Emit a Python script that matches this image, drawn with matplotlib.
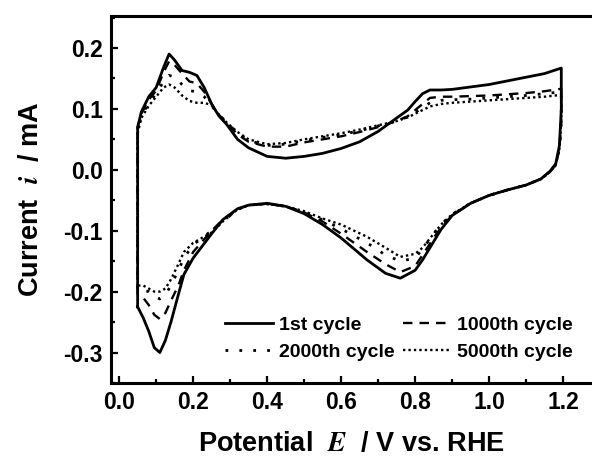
import matplotlib
matplotlib.use("Agg")
import matplotlib.pyplot as plt
from matplotlib.ticker import MultipleLocator

plt.rcParams['font.family'] = ['Liberation Sans', 'DejaVu Sans']
plt.rcParams['font.weight'] = 'bold'
plt.rcParams['mathtext.fontset'] = 'stix'

# --- forward (anodic) scan: common potential grid, V vs RHE ---
E_fwd = [0.05, 0.05, 0.06, 0.08, 0.10, 0.12, 0.135, 0.15, 0.17, 0.19, 0.21, 0.23,
         0.25, 0.27, 0.29, 0.32, 0.35, 0.40, 0.45, 0.50, 0.55, 0.60, 0.65, 0.70,
         0.75, 0.78, 0.80, 0.82, 0.84, 0.87, 0.90, 0.95, 1.00, 1.05, 1.10, 1.15, 1.195]

i_fwd_1 = [-0.225, 0.07, 0.095, 0.12, 0.135, 0.168, 0.19, 0.18, 0.163, 0.16, 0.155, 0.135,
           0.108, 0.088, 0.075, 0.05, 0.036, 0.022, 0.019, 0.022, 0.027, 0.035, 0.046, 0.063,
           0.085, 0.098, 0.112, 0.125, 0.131, 0.131, 0.132, 0.136, 0.14, 0.146, 0.152, 0.158, 0.167]
i_fwd_1000 = [-0.205, 0.07, 0.092, 0.115, 0.13, 0.16, 0.178, 0.172, 0.158, 0.145, 0.142, 0.128,
              0.108, 0.09, 0.078, 0.058, 0.046, 0.038, 0.038, 0.045, 0.05, 0.055, 0.062, 0.07,
              0.08, 0.088, 0.098, 0.108, 0.118, 0.12, 0.12, 0.121, 0.122, 0.124, 0.126, 0.129, 0.133]
i_fwd_2000 = [-0.195, 0.065, 0.088, 0.11, 0.125, 0.145, 0.155, 0.152, 0.14, 0.13, 0.128, 0.12,
              0.105, 0.09, 0.078, 0.06, 0.048, 0.04, 0.042, 0.048, 0.053, 0.058, 0.064, 0.072,
              0.08, 0.087, 0.094, 0.102, 0.11, 0.114, 0.115, 0.116, 0.118, 0.12, 0.122, 0.125, 0.128]
i_fwd_5000 = [-0.19, 0.06, 0.085, 0.105, 0.12, 0.135, 0.14, 0.135, 0.122, 0.113, 0.11, 0.11,
              0.106, 0.09, 0.078, 0.062, 0.05, 0.042, 0.044, 0.05, 0.055, 0.06, 0.066, 0.073,
              0.08, 0.086, 0.092, 0.098, 0.104, 0.108, 0.11, 0.112, 0.114, 0.116, 0.118, 0.12, 0.123]

# --- reverse (cathodic) scan ---
E_rev = [1.195, 1.19, 1.18, 1.165, 1.14, 1.10, 1.05, 1.00, 0.95, 0.90, 0.87, 0.85,
         0.82, 0.80, 0.76, 0.72, 0.67, 0.60, 0.55, 0.50, 0.45, 0.40, 0.35, 0.32,
         0.28, 0.25, 0.20, 0.175, 0.16, 0.14, 0.125, 0.11, 0.095, 0.08, 0.065, 0.05]

i_rev_1 = [0.10, 0.04, 0.01, -0.002, -0.015, -0.025, -0.033, -0.042, -0.055, -0.075, -0.098, -0.118,
           -0.148, -0.165, -0.178, -0.170, -0.148, -0.112, -0.09, -0.072, -0.06, -0.055, -0.058, -0.064,
           -0.082, -0.105, -0.145, -0.172, -0.205, -0.25, -0.28, -0.30, -0.292, -0.265, -0.243, -0.225]
i_rev_1000 = [0.08, 0.035, 0.008, -0.003, -0.015, -0.025, -0.033, -0.042, -0.055, -0.075, -0.095, -0.112,
              -0.14, -0.158, -0.168, -0.155, -0.135, -0.105, -0.085, -0.07, -0.06, -0.056, -0.058, -0.065,
              -0.082, -0.10, -0.135, -0.165, -0.19, -0.215, -0.235, -0.245, -0.238, -0.222, -0.21, -0.205]
i_rev_2000 = [0.08, 0.035, 0.008, -0.003, -0.015, -0.025, -0.033, -0.042, -0.055, -0.073, -0.09, -0.105,
              -0.13, -0.145, -0.15, -0.14, -0.12, -0.097, -0.082, -0.07, -0.06, -0.056, -0.058, -0.065,
              -0.085, -0.10, -0.123, -0.145, -0.165, -0.19, -0.205, -0.212, -0.208, -0.20, -0.198, -0.195]
i_rev_5000 = [0.08, 0.035, 0.008, -0.003, -0.015, -0.025, -0.033, -0.042, -0.055, -0.073, -0.09, -0.105,
              -0.128, -0.138, -0.143, -0.128, -0.11, -0.09, -0.08, -0.068, -0.06, -0.056, -0.058, -0.065,
              -0.085, -0.103, -0.12, -0.135, -0.155, -0.18, -0.195, -0.20, -0.20, -0.195, -0.19, -0.19]

labels = ['1st cycle', '1000th cycle', '2000th cycle', '5000th cycle']

fig = plt.figure(figsize=(5.92, 4.57), dpi=100)
ax = fig.add_axes([0.1875, 0.162, 0.8125, 0.803])

h1, = ax.plot(E_fwd + E_rev, i_fwd_1 + i_rev_1, color='black', lw=2.0, ls='-')
h2, = ax.plot(E_fwd + E_rev, i_fwd_1000 + i_rev_1000, color='black', lw=1.7, ls=(0, (4, 3)))
h3, = ax.plot(E_fwd + E_rev, i_fwd_2000 + i_rev_2000, color='black', lw=2.0, ls=(0, (1, 4)))
h4, = ax.plot(E_fwd + E_rev, i_fwd_5000 + i_rev_5000, color='black', lw=1.7, ls=(0, (1, 1.3)))

ax.set_xlim(-0.022, 1.278)
ax.set_ylim(-0.35, 0.2525)
ax.xaxis.set_major_locator(MultipleLocator(0.2))
ax.xaxis.set_minor_locator(MultipleLocator(0.1))
ax.yaxis.set_major_locator(MultipleLocator(0.1))
ax.yaxis.set_minor_locator(MultipleLocator(0.05))
ax.xaxis.set_major_formatter(plt.FuncFormatter(lambda v, p: f"{v:.1f}"))
ax.yaxis.set_major_formatter(plt.FuncFormatter(lambda v, p: f"{v:.1f}"))
ax.tick_params(which='both', direction='in', width=1.6, labelsize=16.5, pad=6)
ax.tick_params(which='major', length=5)
ax.tick_params(which='minor', length=3)
for s in ['left', 'bottom', 'top']:
    ax.spines[s].set_linewidth(2.2)
ax.spines['right'].set_visible(False)

ax.set_xlabel(r'Potential  $\mathit{E}$  / V vs. RHE', fontsize=19.5, fontweight='bold', labelpad=12)
ax.set_ylabel(r'Current  $\mathit{i}$  / mA', fontsize=19.5, fontweight='bold', labelpad=14)

ax.legend([h1, h3, h2, h4], [labels[0], labels[2], labels[1], labels[3]], ncol=2,
          frameon=False, loc='lower right', bbox_to_anchor=(0.96, 0.06),
          borderaxespad=0, borderpad=0,
          prop={'size': 14, 'weight': 'bold'}, handlelength=2.5, handletextpad=0.3,
          columnspacing=0.4, labelspacing=0.5)

fig.savefig('out.png', dpi=100)
